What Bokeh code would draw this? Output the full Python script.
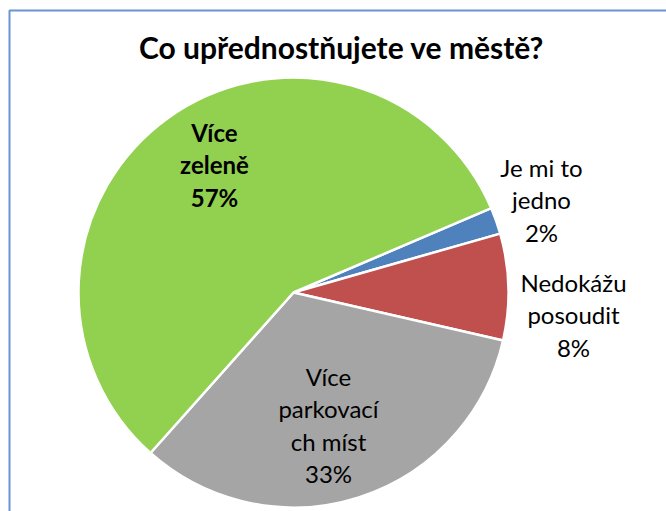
import math
from bokeh.plotting import figure
from bokeh.models import Range1d, ColumnDataSource
from bokeh.embed import file_html
from bokeh.resources import INLINE
from bokeh.core.properties import value

# ---- data ----
title = "Co upřednostňujete ve městě?"
categories = ["Je mi to jedno", "Nedokážu posoudit", "Více parkovacích míst", "Více zeleně"]
values = [2, 8, 33, 57]
label_lines = [["Je mi to", "jedno"], ["Nedokážu", "posoudit"], ["Více", "parkovací", "ch míst"], ["Více", "zeleně"]]
colors = ["#4F81BD", "#C0504D", "#A5A5A5", "#92D050"]

# ---- layout (page pixels) ----
W, H = 666, 511
def Y(py):
    return H - py

cx, cy, R = 293, 292, 215
start_deg = 23.1  # boundary between last and first slice (math angle)
label_anchor = [(541, 177), (573, 292), (328, 386), (214, 142)]
label_bold = [False, False, False, True]
line_gap = 32.5
FONT = "Lato"
LBL = 24
TTL = 30
SHIFT_L = 0.42  # empirical baseline correction (em)
SHIFT_T = 0.55

p = figure(width=W, height=H, x_range=Range1d(0, W), y_range=Range1d(0, H),
           output_backend="svg", toolbar_location=None, min_border=0)
p.axis.visible = False
p.grid.visible = False
p.outline_line_color = None
p.background_fill_color = "white"

# border of chart area (left and top visible)
p.line(x=[9, 9, 800], y=[Y(600), Y(10), Y(10)], line_color="#6A94D4", line_width=2)

total = sum(values)
starts, ends = [], []
cum = 0
for v in values:
    a0 = start_deg - cum / total * 360.0
    cum += v
    a1 = start_deg - cum / total * 360.0
    starts.append(math.radians(a1))
    ends.append(math.radians(a0))

src = ColumnDataSource(dict(start=starts, end=ends, color=colors, cat=categories, val=values))
p.wedge(x=cx, y=Y(cy), radius=R, start_angle="start", end_angle="end",
        fill_color="color", line_color="white", line_width=2.5, source=src)

# labels
tx, ty, tt, tb = [], [], [], []
for i, lines in enumerate(label_lines):
    ax, ay = label_anchor[i]
    all_lines = lines + [f"{values[i]}%"]
    for j, s in enumerate(all_lines):
        tx.append(ax)
        ty.append(Y(ay + j * line_gap - SHIFT_L * LBL))
        tt.append(s)
        tb.append("bold" if label_bold[i] else "normal")
lsrc = ColumnDataSource(dict(x=tx, y=ty, t=tt, b=tb))
p.text(x="x", y="y", text="t", text_font_style="b", source=lsrc, text_align="center",
       text_baseline="alphabetic", text_font=value(FONT), text_font_size=f"{LBL}px", text_color="black")

p.text(x=[341], y=[Y(63 - SHIFT_T * TTL)], text=[title], text_align="center", text_baseline="alphabetic",
       text_font=value(FONT), text_font_style="bold", text_font_size=f"{TTL}px", text_color="black")

open("out.html", "w").write(file_html(p, INLINE))
